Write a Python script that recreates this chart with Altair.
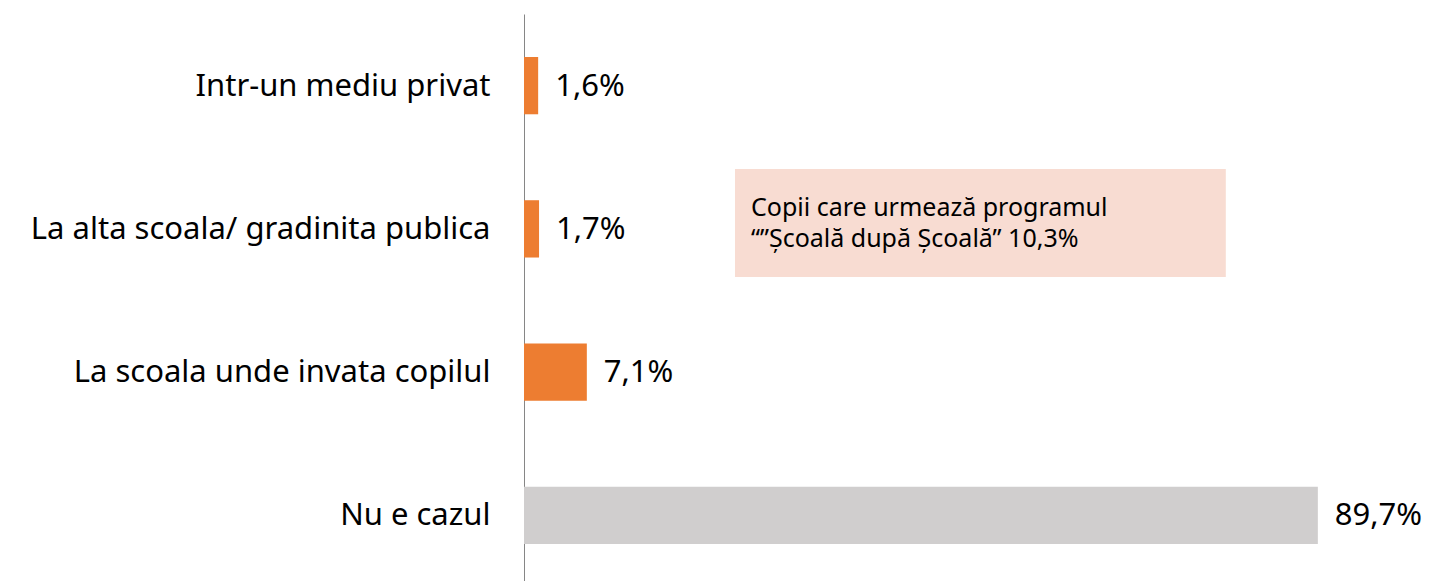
import altair as alt
import pandas as pd

categories = ["Intr-un mediu privat", "La alta scoala/ gradinita publica",
              "La scoala unde invata copilul", "Nu e cazul"]
values = [1.6, 1.7, 7.1, 89.7]
labels = ["1,6%", "1,7%", "7,1%", "89,7%"]
colors = ["#ED7D31", "#ED7D31", "#ED7D31", "#D0CECE"]

note_lines = ["Copii care urmează programul", "“”Școală după Școală” 10,3%"]

FONT = "Noto Sans"

df = pd.DataFrame({"cat": categories, "val": values, "lab": labels, "col": colors})

W = 885
H = 573

xscale = alt.Scale(domain=[0, 100], nice=False)
x = alt.X("val:Q", scale=xscale, axis=None)
y = alt.Y("cat:N", sort=categories,
          scale=alt.Scale(paddingInner=0.6, paddingOuter=0.3),
          axis=alt.Axis(title=None, ticks=False, domain=True, domainColor="#868686",
                        domainWidth=1, labelFont=FONT, labelFontSize=31,
                        labelColor="#000000", labelPadding=34, labelLimit=600,
                        labelBaseline="alphabetic", labelOffset=10))

bars = alt.Chart(df).mark_bar().encode(x=x, y=y, color=alt.Color("col:N", scale=None))

text = alt.Chart(df).mark_text(align="left", baseline="alphabetic", dx=17, dy=10,
                               font=FONT, fontSize=31, color="#000000").encode(
    x=x, y=alt.Y("cat:N", sort=categories), text="lab:N")

note_df = pd.DataFrame({"x1": [23.84], "x2": [79.3]})
box = alt.Chart(note_df).mark_rect(color="#F8DCD2").encode(
    x=alt.X("x1:Q", scale=xscale, axis=None), x2="x2:Q",
    y=alt.value(155), y2=alt.value(263))

note_txt_df = pd.DataFrame({"x1": [23.84, 23.84], "t": note_lines, "yy": [202, 233]})
note_text = alt.Chart(note_txt_df).mark_text(align="left", baseline="alphabetic", dx=16,
                                             font=FONT, fontSize=25, color="#000000").encode(
    x=alt.X("x1:Q", scale=xscale, axis=None),
    y=alt.Y("yy:Q", scale=None, axis=None), text="t:N")

chart = alt.layer(bars, text, box, note_text).properties(
    width=W, height=H,
    background="#FFFFFF",
    autosize=alt.AutoSizeParams(type="none"),
    padding={"left": 516, "top": 6, "right": 14, "bottom": 0},
).configure_view(stroke=None)

chart.save("out.html", embed_options={"renderer": "svg", "actions": False})
